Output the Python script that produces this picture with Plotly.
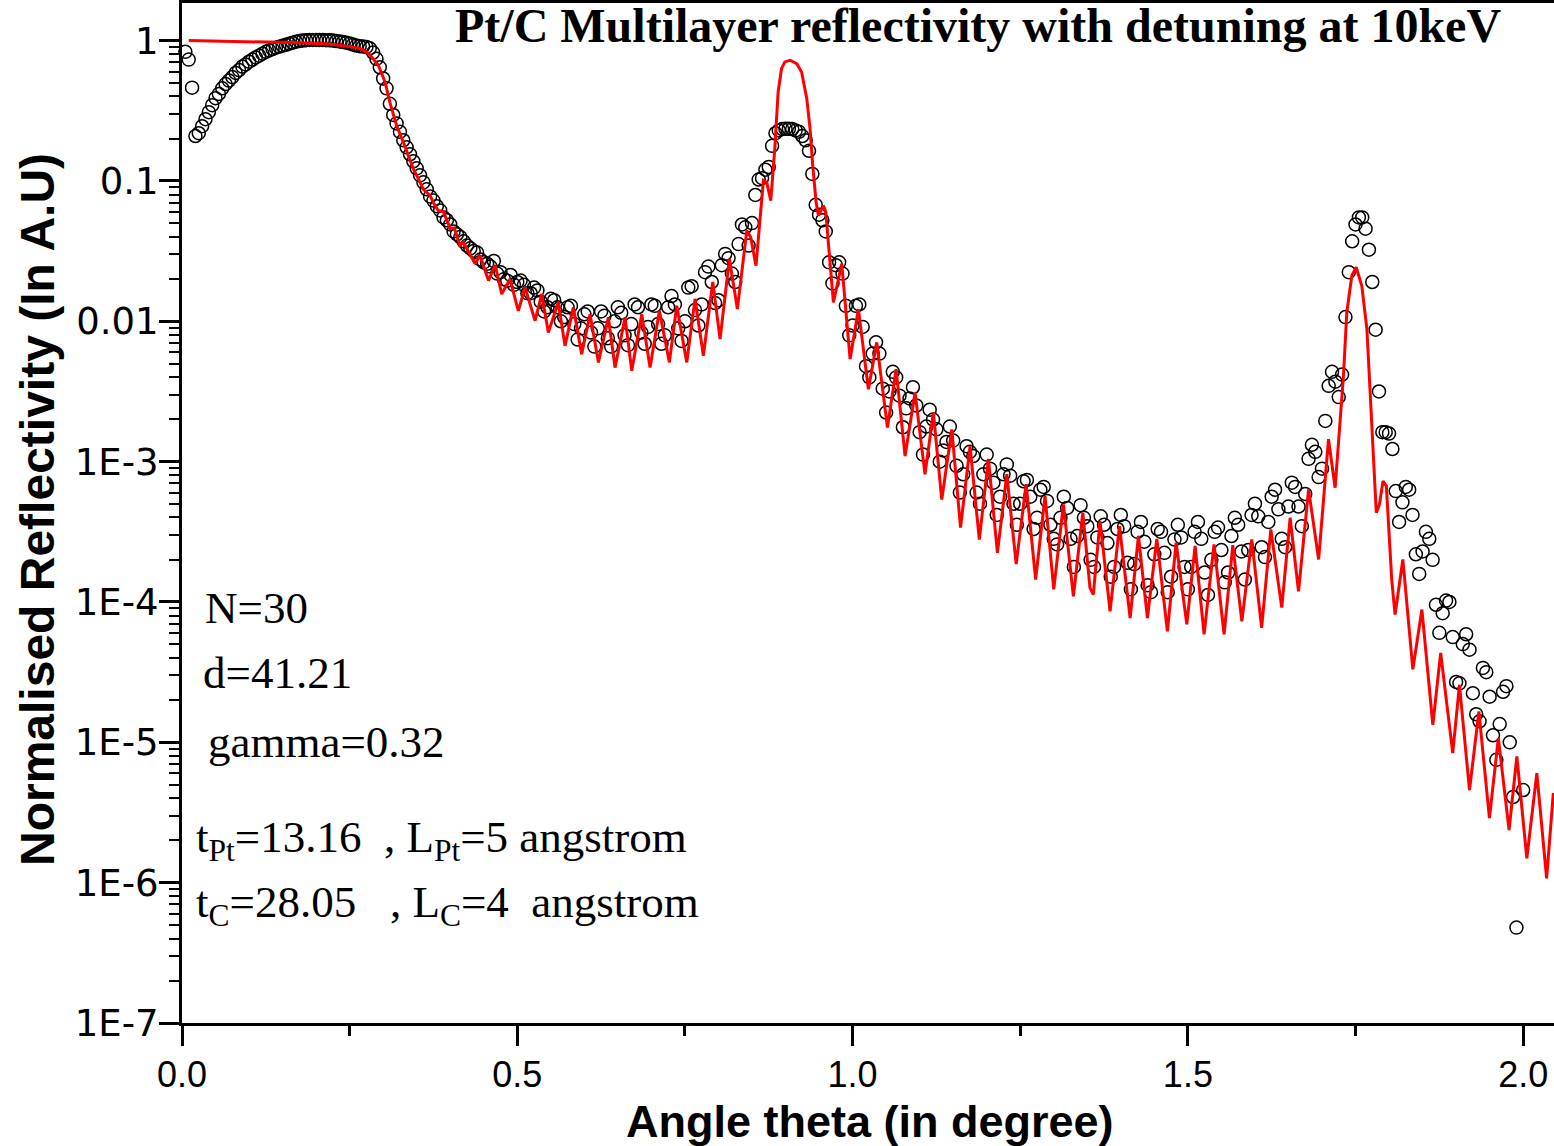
import plotly.graph_objects as go

# ---------------- measured data (open circles) ----------------
# scan grid: theta = 0.005 * (i+1) degrees ; values are log10(R) read off the picture
theta_step = 0.005

meas_log_R_seg1 = [  # 0.005 .. 0.300
    -0.08, -0.135, -0.335, -0.68, -0.66, -0.61, -0.56, -0.51, -0.46, -0.41,
    -0.38, -0.34, -0.31, -0.285, -0.26, -0.23, -0.21, -0.185, -0.17, -0.15,
    -0.135, -0.12, -0.107, -0.093, -0.08, -0.07, -0.06, -0.05, -0.043, -0.036,
    -0.03, -0.022, -0.015, -0.008, -0.003, 0.0, 0.003, 0.005, 0.005, 0.005,
    0.004, 0.004, 0.003, 0.002, 0.0, -0.003, -0.006, -0.01, -0.015, -0.02,
    -0.028, -0.035, -0.04, -0.042, -0.045, -0.055, -0.085, -0.13, -0.19, -0.27]
meas_log_R_seg2 = [  # 0.305 .. 0.500
    -0.34, -0.45, -0.53, -0.59, -0.65, -0.71, -0.76, -0.81, -0.86, -0.91,
    -0.96, -1.01, -1.06, -1.11, -1.14, -1.18, -1.21, -1.26, -1.28, -1.31,
    -1.36, -1.38, -1.40, -1.43, -1.46, -1.48, -1.50, -1.51, -1.56, -1.58,
    -1.59, -1.61, -1.57, -1.66, -1.65, -1.70, -1.71, -1.67, -1.74, -1.72]
meas_log_R_seg3 = [  # 0.505 .. 0.700
    -1.71, -1.74, -1.80, -1.80, -1.76, -1.78, -1.86, -1.93, -1.90, -1.84,
    -1.85, -1.90, -2.00, -1.97, -1.90, -1.89, -2.02, -2.13, -2.05, -1.95,
    -1.93, -2.08, -2.18, -2.05, -1.93, -1.96, -2.12, -2.18, -2.00, -1.90,
    -1.94, -2.10, -2.17, -2.02, -1.88, -1.90, -2.08, -2.16, -2.04, -1.88]
meas_log_R_seg4 = [  # 0.705 .. 0.900
    -1.89, -2.02, -2.16, -2.10, -1.90, -1.82, -1.88, -2.05, -2.14, -2.00,
    -1.76, -1.75, -1.92, -2.03, -1.88, -1.65, -1.61, -1.72, -1.87, -1.85,
    -1.60, -1.52, -1.55, -1.66, -1.72, -1.45, -1.31, -1.33, -1.46, -1.30,
    -1.10, -0.99, -0.98, -0.92, -0.90, -0.75, -0.66, -0.64, -0.63, -0.628]
meas_log_R_seg5 = [  # 0.905 .. 1.100
    -0.628, -0.63, -0.64, -0.65, -0.68, -0.71, -0.785, -0.95, -1.17, -1.24,
    -1.28, -1.36, -1.58, -1.73, -1.60, -1.58, -1.66, -1.89, -2.10, -2.03,
    -1.89, -1.88, -2.04, -2.32, -2.40, -2.23, -2.15, -2.23, -2.48, -2.65,
    -2.50, -2.36, -2.40, -2.53, -2.755, -2.62, -2.55, -2.47, -2.60, -2.79]
meas_log_R_seg6 = [  # 1.105 .. 1.300
    -2.95, -2.75, -2.63, -2.70, -2.77, -3.00, -2.92, -2.86, -2.75, -2.85,
    -3.03, -3.22, -3.09, -2.89, -2.93, -2.96, -3.22, -3.30, -3.09, -2.95,
    -3.05, -3.15, -3.38, -3.25, -3.09, -3.02, -3.10, -3.30, -3.45, -3.30,
    -3.14, -3.13, -3.25, -3.48, -3.40, -3.20, -3.18, -3.28, -3.45, -3.55]
meas_log_R_seg7 = [  # 1.305 .. 1.500
    -3.59, -3.40, -3.25, -3.33, -3.55, -3.75, -3.53, -3.31, -3.40, -3.46,
    -3.70, -3.75, -3.54, -3.39, -3.45, -3.58, -3.82, -3.75, -3.48, -3.38,
    -3.46, -3.72, -3.91, -3.73, -3.50, -3.43, -3.57, -3.88, -3.93, -3.66,
    -3.48, -3.50, -3.65, -3.93, -3.82, -3.555, -3.45, -3.54, -3.75, -3.91]
meas_log_R_seg8 = [  # 1.505 .. 1.700
    -3.75, -3.50, -3.43, -3.55, -3.79, -3.95, -3.70, -3.50, -3.47, -3.63,
    -3.86, -3.79, -3.53, -3.40, -3.45, -3.64, -3.84, -3.63, -3.38, -3.30,
    -3.39, -3.61, -3.68, -3.43, -3.25, -3.20, -3.34, -3.55, -3.61, -3.32,
    -3.15, -3.18, -3.32, -3.46, -3.23, -2.98, -2.88, -2.93, -3.11, -3.05]
meas_log_R_seg9 = [  # 1.705 .. 1.900
    -2.71, -2.46, -2.36, -2.43, -2.54, -2.38, -1.97, -1.65, -1.43, -1.31,
    -1.26, -1.26, -1.34, -1.49, -1.72, -2.06, -2.50, -2.79, -2.79, -2.80,
    -2.91, -3.21, -3.43, -3.29, -3.18, -3.20, -3.38, -3.66, -3.80, -3.64,
    -3.50, -3.55, -3.70, -4.02, -4.22, -4.08, -3.99, -4.00, -4.25, -4.57]
meas_log_R_seg10 = [  # 1.905 .. 2.000
    -4.58, -4.30, -4.23, -4.34, -4.65, -4.80, -4.85, -4.47, -4.50, -4.675,
    -4.95, -5.125, -4.87, -4.64, -4.60, -5.00, -5.39, -6.32, None, -5.34]

meas_log_R = (meas_log_R_seg1 + meas_log_R_seg2 + meas_log_R_seg3 + meas_log_R_seg4
              + meas_log_R_seg5 + meas_log_R_seg6 + meas_log_R_seg7 + meas_log_R_seg8
              + meas_log_R_seg9 + meas_log_R_seg10)
meas_theta = [round((i + 1) * theta_step, 3) for i in range(len(meas_log_R))]
meas_R = [None if v is None else 10 ** v for v in meas_log_R]

# ---------------- simulated curve (red line) vertices ----------------
sim_theta = [
    0.010, 0.100, 0.166, 0.220, 0.260, 0.270, 0.280, 0.2928, 0.3028, 0.310,
    0.320, 0.330, 0.345, 0.3525, 0.360, 0.370, 0.377, 0.382, 0.390, 0.400,
    0.406, 0.4146, 0.4195, 0.437, 0.4444, 0.457, 0.467, 0.4768, 0.489, 0.5016,
    0.5116, 0.5265, 0.5365, 0.5463, 0.561, 0.5712, 0.5836, 0.596, 0.6085, 0.621,
    0.6358, 0.6458, 0.6607, 0.6707, 0.6856, 0.698, 0.7119, 0.7268, 0.7378, 0.7527,
    0.7651, 0.7775, 0.7915, 0.8024, 0.8163, 0.8282, 0.8422, 0.848, 0.856, 0.867,
    0.872, 0.878, 0.884, 0.889, 0.894, 0.899, 0.9068, 0.9168, 0.924, 0.9317,
    0.9366, 0.9406, 0.9456, 0.949, 0.9565, 0.960, 0.9714, 0.9839, 0.9963, 1.0087,
    1.0236, 1.036, 1.052, 1.0649, 1.0783, 1.0932, 1.108, 1.1205, 1.133, 1.148,
    1.161, 1.1752, 1.189, 1.2026, 1.216, 1.230, 1.244, 1.2588, 1.273, 1.287,
    1.300, 1.3144, 1.3293, 1.3433, 1.354, 1.359, 1.369, 1.384, 1.398, 1.4139,
    1.4263, 1.4397, 1.4537, 1.4695, 1.4825, 1.4984, 1.5108, 1.5242, 1.539, 1.554,
    1.567, 1.5805, 1.5953, 1.610, 1.6237, 1.640, 1.6525, 1.665, 1.680, 1.695,
    1.7097, 1.7196, 1.732, 1.737, 1.7445, 1.751, 1.7594, 1.767, 1.772, 1.777,
    1.781, 1.7857, 1.791, 1.796, 1.804, 1.809, 1.8206, 1.8355, 1.849, 1.8653,
    1.877, 1.895, 1.905, 1.920, 1.934, 1.9497, 1.963, 1.979, 1.9906, 2.0055,
    2.0204, 2.035, 2.045]
sim_log_R = [
    0.0, -0.006, -0.014, -0.025, -0.05, -0.065, -0.10, -0.176, -0.295, -0.44,
    -0.605, -0.723, -0.914, -0.985, -1.06, -1.104, -1.175, -1.21, -1.22, -1.34,
    -1.335, -1.46, -1.437, -1.59, -1.53, -1.71, -1.60, -1.806, -1.70, -1.925,
    -1.758, -1.996, -1.806, -2.08, -1.865, -2.175, -1.90, -2.234, -1.95, -2.293,
    -1.972, -2.33, -1.972, -2.353, -1.949, -2.33, -1.925, -2.293, -1.889, -2.293,
    -1.84, -2.246, -1.72, -2.127, -1.556, -1.913, -1.354, -1.40, -1.604, -0.997,
    -1.01, -1.14, -0.77, -0.366, -0.20, -0.152, -0.14, -0.164, -0.224, -0.414,
    -0.628, -0.89, -1.15, -1.247, -1.176, -1.22, -1.865, -1.59, -2.27, -1.913,
    -2.484, -2.15, -2.757, -2.341, -2.96, -2.508, -3.09, -2.65, -3.27, -2.77,
    -3.47, -2.89, -3.555, -2.98, -3.65, -3.09, -3.73, -3.16, -3.84, -3.245,
    -3.91, -3.305, -3.96, -3.364, -3.90, -3.947, -3.424, -4.066, -3.46, -4.114,
    -3.53, -4.114, -3.55, -4.21, -3.578, -4.16, -3.60, -4.23, -3.59, -4.23,
    -3.595, -4.138, -3.555, -4.185, -3.483, -4.04, -3.40, -3.924, -3.198, -3.697,
    -2.84, -3.186, -2.39, -1.937, -1.675, -1.615, -1.747, -2.056, -2.53, -3.007,
    -3.364, -3.305, -3.138, -3.174, -3.84, -4.09, -3.697, -4.48, -4.054, -4.875,
    -4.363, -5.077, -4.59, -5.34, -4.78, -5.54, -4.97, -5.625, -5.10, -5.827,
    -5.22, -5.97, -5.36]
sim_R = [10 ** v for v in sim_log_R]

# ---------------- axis ticks ----------------
y_tick_vals = [1, 0.1, 0.01, 1e-3, 1e-4, 1e-5, 1e-6, 1e-7]
y_tick_text = ["1", "0.1", "0.01", "1E-3", "1E-4", "1E-5", "1E-6", "1E-7"]
y_minor_vals = [k * 10.0 ** e for e in range(-7, 0) for k in range(2, 10)]

# ---------------- geometry helpers (pixel -> paper) ----------------
W, H = 1554, 1146
ML, MR, MT, MB = 182, 0, 3, 123
PW, PH = W - ML - MR, H - MT - MB


def px(xp):
    return (xp - ML) / PW


def py(yp):
    return (H - MB - yp) / PH


fig = go.Figure()
fig.add_trace(go.Scatter(
    x=meas_theta, y=meas_R, mode="markers", cliponaxis=False,
    marker=dict(symbol="circle-open", size=13, color="black",
                line=dict(width=1.5, color="black")),
    name="measured"))
fig.add_trace(go.Scatter(
    x=sim_theta, y=sim_R, mode="lines",
    line=dict(color="#ff0000", width=3), name="simulated"))

serif = "Liberation Serif, Times New Roman, serif"
sans = "Liberation Sans, Arial, sans-serif"

annos = [
    dict(text="<b>Pt/C Multilayer reflectivity with detuning at 10keV</b>",
         x=px(978), y=py(25), xanchor="center", yanchor="middle",
         font=dict(family=serif, size=48, color="black")),
    dict(text="N=30", x=px(203), y=py(608), xanchor="left", yanchor="middle",
         font=dict(family=serif, size=45, color="black")),
    dict(text="d=41.21", x=px(201), y=py(673), xanchor="left", yanchor="middle",
         font=dict(family=serif, size=45, color="black")),
    dict(text="gamma=0.32", x=px(206), y=py(742), xanchor="left", yanchor="middle",
         font=dict(family=serif, size=45, color="black")),
    dict(text="t<sub>Pt</sub>=13.16\u00a0\u00a0, L<sub>Pt</sub>=5 angstrom",
         x=px(194), y=py(840), xanchor="left", yanchor="middle",
         font=dict(family=serif, size=45, color="black")),
    dict(text="t<sub>C</sub>=28.05\u00a0\u00a0\u00a0, L<sub>C</sub>=4\u00a0\u00a0angstrom",
         x=px(194), y=py(905), xanchor="left", yanchor="middle",
         font=dict(family=serif, size=45, color="black")),
    dict(text="<b>Angle theta (in degree)</b>", x=px(870), y=py(1121),
         xanchor="center", yanchor="middle",
         font=dict(family=sans, size=45, color="black")),
    dict(text="<b>Normalised Reflectivity (In A.U)</b>", x=px(37), y=py(510),
         xanchor="center", yanchor="middle", textangle=-90,
         font=dict(family=sans, size=48, color="black")),
]
for a in annos:
    a.update(xref="paper", yref="paper", showarrow=False)

fig.update_layout(
    width=W, height=H,
    margin=dict(l=ML, r=MR, t=MT, b=MB, autoexpand=False),
    paper_bgcolor="white", plot_bgcolor="white",
    showlegend=False,
    annotations=annos,
    xaxis=dict(
        range=[0, 2.046], tick0=0, dtick=0.5, tickformat=".1f",
        automargin=False,
        ticks="outside", ticklen=20, tickwidth=3, tickcolor="black",
        showline=True, linewidth=3, linecolor="black", mirror=True,
        showgrid=False, zeroline=False, ticklabelstandoff=-2,
        tickfont=dict(family=sans, size=36, color="black"),
        minor=dict(ticks="outside", ticklen=10, tickwidth=3, tickcolor="black",
                   tick0=0, dtick=0.25, showgrid=False),
    ),
    yaxis=dict(
        type="log", range=[-7, 0.268], automargin=False,
        tickmode="array", tickvals=y_tick_vals, ticktext=y_tick_text,
        ticks="outside", ticklen=20, tickwidth=3, tickcolor="black",
        showline=True, linewidth=3, linecolor="black", mirror=False,
        showgrid=False, zeroline=False, ticklabelstandoff=-7,
        tickfont=dict(family="DejaVu Sans, sans-serif", size=37, color="black"),
        minor=dict(tickmode="array", tickvals=y_minor_vals, ticks="outside",
                   ticklen=10, tickwidth=2, tickcolor="black", showgrid=False),
    ),
)

fig.write_html(
    "out.html",
    config={"displayModeBar": False},
    post_script="document.body.style.margin='0px';document.body.style.padding='0px';",
)
